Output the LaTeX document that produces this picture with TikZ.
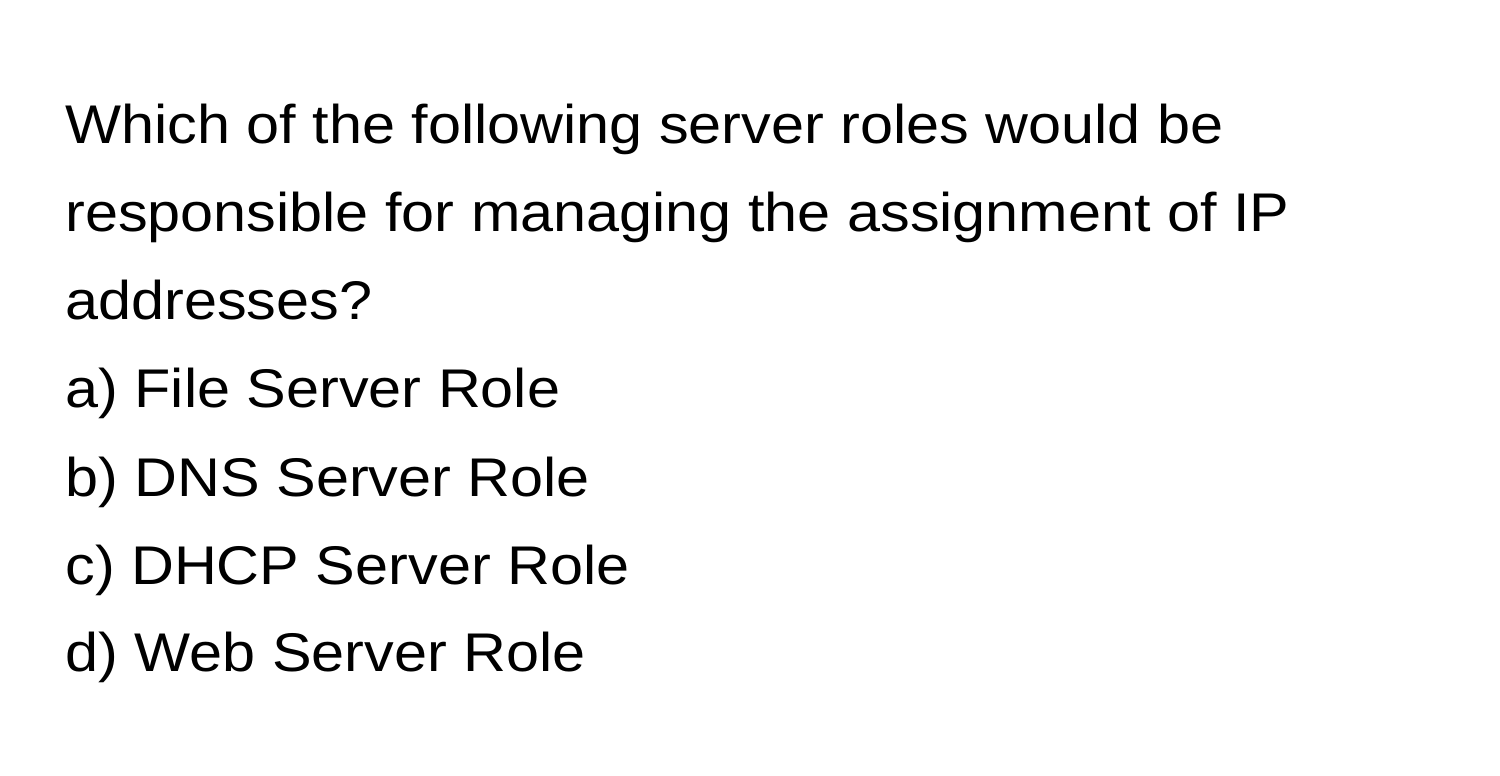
\documentclass[tikz,border=0pt]{standalone}
\usepackage{fontspec}
\setmainfont[FakeStretch=1.09]{Liberation Sans}
\newcommand{\qfont}{\fontsize{31}{38}\selectfont}
\begin{document}
\begin{tikzpicture}[x=0.02cm,y=-0.02cm]
            \tikzstyle{every node}+=[inner sep=0pt, anchor=base west, font=\qfont]
            \useasboundingbox (0,0) rectangle (1500,776);
            \node (qa) at (65,144) {Which of the following server roles would be};
            \node (qb) at (65,232) {responsible for managing the assignment of IP};
            \node (qc) at (65,320) {addresses?};
            \node (opta) at (65,408) {a) File Server Role};
            \node (optb) at (65,496) {b) DNS Server Role};
            \node (optc) at (65,584) {c) DHCP Server Role};
            \node (optd) at (65,671) {d) Web Server Role};
\end{tikzpicture}
\end{document}
